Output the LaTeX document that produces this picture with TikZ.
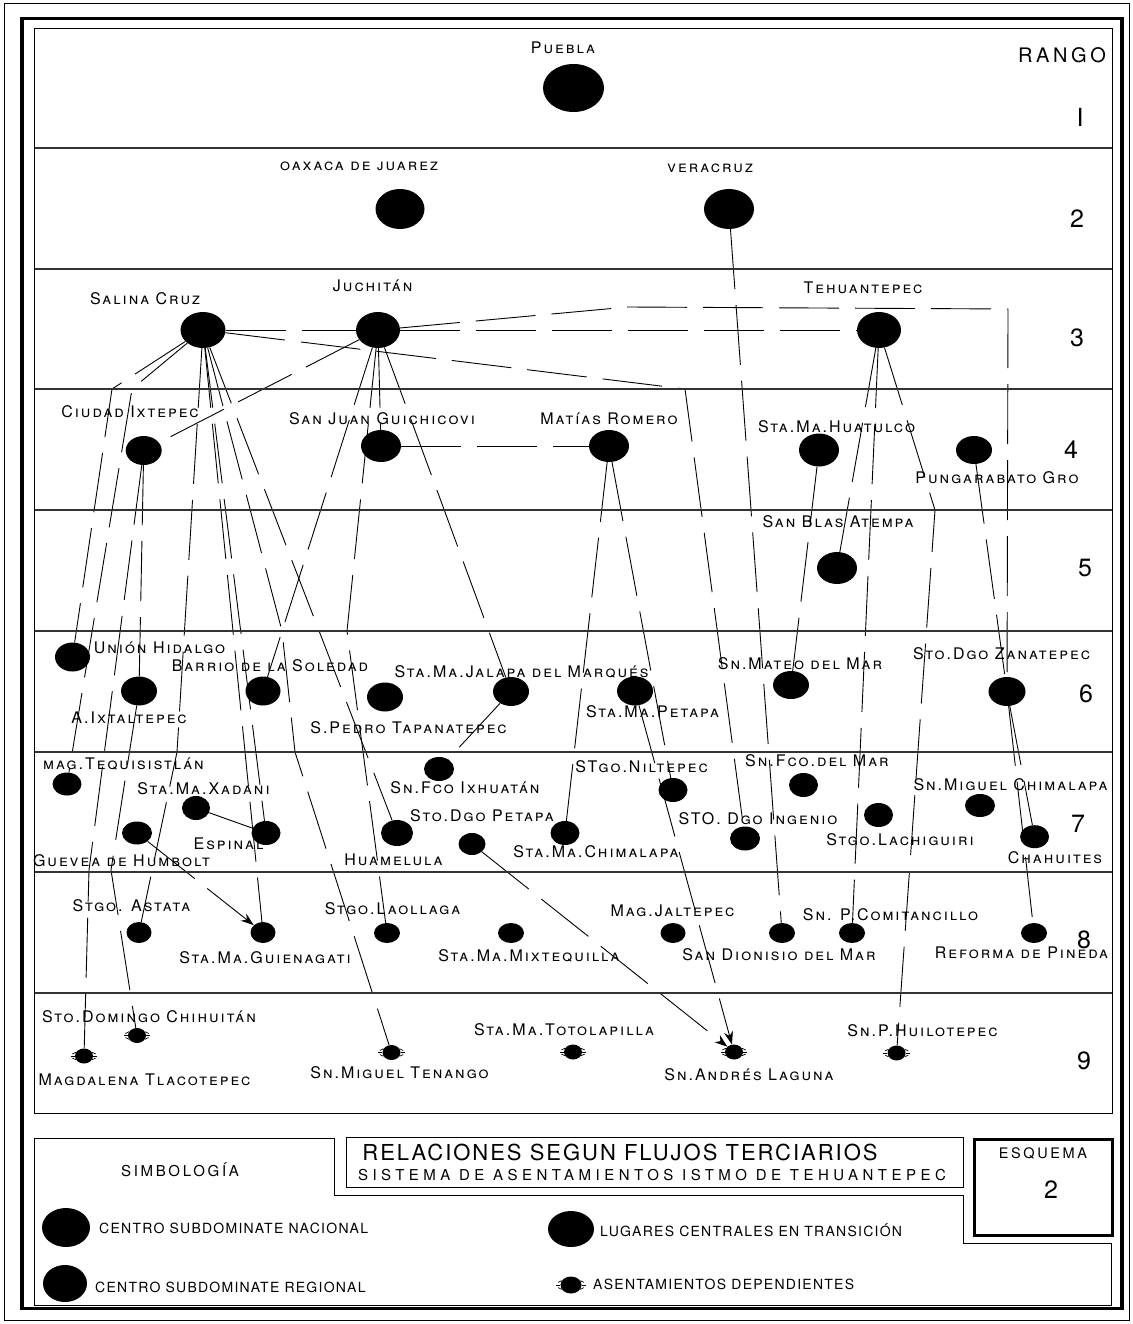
\documentclass[tikz,border=0pt]{standalone}
\usepackage{fontspec}
\setmainfont{TeX Gyre Heros}
\newfontfamily\cadfont[LetterSpace=12.5]{TeX Gyre Heros}
\newfontfamily\cadleg[LetterSpace=9]{TeX Gyre Heros}
\newfontfamily\cadtit[LetterSpace=9]{TeX Gyre Heros}
\newfontfamily\cadwide[LetterSpace=18]{TeX Gyre Heros}
\newfontfamily\cadsub[LetterSpace=30]{TeX Gyre Heros}
\usetikzlibrary{arrows.meta,shapes.geometric,backgrounds}

\tikzset{
  pob/.style 2 args={ellipse, fill=black, draw=none, inner sep=0pt, minimum width=#1, minimum height=#2},
  lbl/.style={font=\cadfont\fontsize{16}{16}\selectfont\scshape, inner sep=0pt, text height=11.5pt, text depth=0pt},
  flujo/.style={line width=0.9pt, dash pattern=on 60pt off 16pt},
  flecha/.style={flujo, -{Stealth[length=13pt,width=9pt]}},
  franja/.style={line width=1.1pt, draw=black!80},
  legtxt/.style={font=\cadleg\fontsize{14}{14}\selectfont, anchor=west, inner sep=0pt},
  rango/.style={font=\cadfont\fontsize{25}{25}\selectfont, inner sep=0pt}
}

\begin{document}
\begin{tikzpicture}[x=1pt, y=-1pt]
\useasboundingbox (0,0) rectangle (1132,1324);
% marcos
\draw[line width=0.8pt] (4,3) rectangle (1129,1320);
\draw[line width=3.2pt] (22,18.5) rectangle (1122,1308.5);
\draw[line width=1pt] (34.5,28.5) rectangle (1112,1113);
\foreach \y in {148,269,389,510,631,752,872,993}
  \draw[franja] (34.5,\y) -- (1112,\y);
% rangos
\node[font=\cadwide\fontsize{20}{20}\selectfont, inner sep=0pt] (rango) at (1062,55.5) {RANGO};
\foreach \t/\x/\y in {I/1080/117.5, 2/1077/219, 3/1077/337.5, 4/1071/450, 5/1085/568,
                      6/1086/694, 7/1078/824, 8/1084/940, 9/1084/1061}
  \node[rango] (r\t) at (\x,\y) {\t};

% asentamientos
\foreach \n/\x/\y/\w/\h in {
  puebla/573.5/88/61/48,
  oaxaca/400/209/49/40, veracruz/729/209/50/40,
  salina/203/330/45/36, juchitan/378/330/44/36, tehuantepec/879/330/44/36,
  ixtepec/143.7/450.5/36/29, guichicovi/381/446/40/32, romero/609/446/40/32,
  huatulco/819/450/40/33, pungarabato/974/450/36/28,
  blas/837/568/40/32,
  union/72.5/657/35/29, ixtaltepec/139/691/36/29, soledad/263/691/35/29,
  tapanatepec/385/697/36/29, jalapa/511/691.5/36/29, petapa/635/691/36/29,
  mateo/791/685/36/28, zanatepec/1007/691.5/37/29,
  tequisistlan/67/784/29/23, xadani/196/808/28/24, guevea/137/833/30/23,
  espinal/266/833/29/24, ixhuatan/439/769/30/24, huamelula/397/833/32/26,
  stodgopetapa/472/844/27/22, chimalapa/565/833/29/24, niltepec/673/790/29/24,
  ingenio/745/838.5/30/24, sfcomar/803.5/785/29/24, lachiguiri/878.5/815/29/24,
  smchimalapa/980/805.5/30/23, chahuites/1034.6/836.7/29/23,
  astata/139/932.5/25/21, guienagati/263/932.5/25/21, laollaga/387/933/26/20,
  mixtequilla/511/933/26/20, jaltepec/673/933/25/20, dionisio/782/933/26/20,
  comitancillo/852/933/26/20, reforma/1034/933/26/20,
  chihuitan/137/1035.5/18/15, tlacotepec/84/1056/18/15, tenango/391.5/1052.5/18/15,
  totolapilla/573/1052/18/15, laguna/734/1052/18/15, huilotepec/896.6/1053/18/15}
  \node[pob={\w}{\h}] (\n) at (\x,\y) {};

% asentamientos dependientes: bordes dentados
\foreach \n in {chihuitan,tlacotepec,tenango,totolapilla,laguna,huilotepec}
  \foreach \a in {-25,0,25,155,180,205}
    \draw[line width=0.7pt] (\n.\a) -- ++(\a:4);

% nombres
\foreach \n/\x/\y/\t in {
  puebla/563/48/Puebla, oaxaca/359/164.5/oaxaca de juarez, veracruz/710/166.5/veracruz,
  salina/145/299/Salina Cruz, juchitan/372.7/285.5/Juchitán, tehuantepec/863/287.5/Tehuantepec,
  ixtepec/130/411.5/Ciudad Ixtepec, guichicovi/382/418.5/San Juan Guichicovi,
  romero/609/418.5/Matías Romero, huatulco/836.5/426.5/Sta.Ma.Huatulco,
  pungarabato/997/477.5/Pungarabato Gro, blas/838/521.5/San Blas Atempa,
  union/159.5/647.5/Unión Hidalgo, ixtaltepec/129/717.5/A.Ixtaltepec,
  soledad/270/666/Barrio de la Soledad, jalapa/521.5/671.5/Sta.Ma.Jalapa del Marqués,
  tapanatepec/408.5/727.5/S.Pedro Tapanatepec, petapa/652.5/712/Sta.Ma.Petapa,
  mateo/800/663.5/Sn.Mateo del Mar, zanatepec/1001.5/653.5/Sto.Dgo Zanatepec,
  tequisistlan/123.5/763.5/mag.Tequisistlán, xadani/203.5/788.5/Sta.Ma.Xadani,
  guevea/121.5/861/Guevea de Humbolt, espinal/228.5/844/Espinal,
  ixhuatan/465/788/Sn.Fco Ixhuatán, huamelula/393.5/860/Huamelula,
  stodgopetapa/482/815.5/Sto.Dgo Petapa, chimalapa/596/851.5/Sta.Ma.Chimalapa,
  niltepec/641.5/766.5/STgo.Niltepec, ingenio/758/818.5/STO. Dgo Ingenio,
  sfcomar/817/760.5/Sn.Fco.del Mar, lachiguiri/900/839.5/Stgo.Lachiguiri,
  smchimalapa/1010.5/784.5/Sn.Miguel Chimalapa, chahuites/1055/857.5/Chahuites,
  astata/131.5/906/Stgo. Astata, guienagati/265/957.5/Sta.Ma.Guienagati,
  laollaga/392.5/908.5/Stgo.Laollaga, mixtequilla/529/956/Sta.Ma.Mixtequilla,
  jaltepec/672.5/910.5/Mag.Jaltepec, dionisio/779/955/San Dionisio del Mar,
  comitancillo/890.5/915/Sn. P.Comitancillo, reforma/1021.5/952.5/Reforma de Pineda,
  chihuitan/149/1017/Sto.Domingo Chihuitán, tlacotepec/144.5/1080/Magdalena Tlacotepec,
  tenango/399.5/1073/Sn.Miguel Tenango, totolapilla/564/1030/Sta.Ma.Totolapilla,
  laguna/749/1075/Sn.Andrés Laguna, huilotepec/922.5/1030.5/Sn.P.Huilotepec}
  \node[lbl] (t\n) at (\x,\y) {\t};

% codos de los flujos
\coordinate (codo1) at (628,307);
\coordinate (codo2) at (1008,309);
\coordinate (codo3) at (685,389);
\coordinate (codo4) at (112,389);
\coordinate (codo5) at (132,389);
\coordinate (codo6) at (177,752);
\coordinate (codo7) at (282,631);
\coordinate (codo8) at (295,752);
\coordinate (codo9) at (89,870);
\coordinate (codo10) at (111,870);
\coordinate (codo11) at (347,631);
\coordinate (codo12) at (935,510);

% flujos terciarios
\begin{scope}[on background layer]
\fill[white] (0,0) rectangle (1132,1324);
\draw[flujo] (salina) -- (juchitan);
\draw[flujo] (juchitan) -- (tehuantepec);
\draw[flujo] (juchitan) -- (codo1) -- (codo2) -- (zanatepec);
\draw[flujo] (juchitan) -- (ixtepec);
\draw[flujo] (salina) -- (codo3) -- (ingenio);
\draw[flujo] (veracruz) -- (dionisio);
\draw[flujo] (salina) -- (codo4) -- (union);
\draw[flujo] (salina) -- (codo5) -- (tequisistlan);
\draw[flujo] (salina) -- (codo6) -- (astata);
\draw[flujo] (salina) -- (guienagati);
\draw[flujo] (salina) -- (espinal);
\draw[flujo] (salina) -- (codo7) -- (codo8) -- (tenango);
\draw[flujo] (salina) -- (huamelula);
\draw[flujo] (ixtepec) -- (ixtaltepec);
\draw[flujo] (ixtepec) -- (codo9) -- (tlacotepec);
\draw[flujo] (ixtaltepec) -- (codo10) -- (chihuitan);
\draw[flujo] (juchitan) -- (soledad);
\draw[flujo] (juchitan) -- (codo11) -- (laollaga);
\draw[flujo] (juchitan) -- (guichicovi);
\draw[flujo] (juchitan) -- (jalapa);
\draw[flujo] (guichicovi) -- (romero);
\draw[flujo] (romero) -- (chimalapa);
\draw[flujo] (romero) -- (niltepec);
\draw[flecha] (petapa) -- (laguna);
\draw[flecha] (stodgopetapa) -- (laguna);
\draw[flecha] (guevea) -- (guienagati);
\draw[flujo] (xadani) -- (espinal);
\draw[flujo] (jalapa) -- (ixhuatan);
\draw[flujo] (tehuantepec) -- (blas);
\draw[flujo] (tehuantepec) -- (comitancillo);
\draw[flujo] (tehuantepec) -- (codo12) -- (huilotepec);
\draw[flujo] (huatulco) -- (mateo);
\draw[flujo] (pungarabato) -- (zanatepec);
\draw[flujo] (zanatepec) -- (chahuites);
\draw[flujo] (zanatepec) -- (reforma);
\end{scope}

% simbologia y titulo
\draw[line width=1pt] (34.5,1138) -- (334,1138) -- (334,1195) -- (963,1195) -- (963,1243)
  -- (1111,1243) -- (1111,1305) -- (34.5,1305) -- cycle;
\draw[line width=1pt] (346,1137) rectangle (963,1187);
\draw[line width=3pt] (974,1139) rectangle (1112,1235);
\node[font=\cadwide\fontsize{15}{15}\selectfont, inner sep=0pt] (simbologia) at (180,1170) {SIMBOLOGÍA};
\node[font=\cadtit\fontsize{22}{22}\selectfont, inner sep=0pt] (titulo) at (620,1152) {RELACIONES SEGUN FLUJOS TERCIARIOS};
\node[font=\cadsub\fontsize{15}{15}\selectfont, inner sep=0pt] (subtitulo) at (652,1175) {SISTEMA DE ASENTAMIENTOS ISTMO DE TEHUANTEPEC};
\node[font=\cadwide\fontsize{14.5}{14.5}\selectfont, inner sep=0pt] (esquema) at (1043,1153) {ESQUEMA};
\node[rango] (numesq) at (1051,1190) {2};
\node[pob={48}{39}] (sim1) at (66,1227.5) {};
\node[pob={44}{37}] (sim2) at (65,1283.5) {};
\node[pob={46}{36}] (sim3) at (571,1229) {};
\node[pob={21}{17}] (sim4) at (571,1285) {};
\foreach \a in {-25,0,25,155,180,205}
  \draw[line width=0.7pt] (sim4.\a) -- ++(\a:4);
\node[legtxt] (tsim1) at (99,1228) {CENTRO SUBDOMINATE NACIONAL};
\node[legtxt] (tsim2) at (95,1287) {CENTRO SUBDOMINATE REGIONAL};
\node[legtxt] (tsim3) at (600,1230) {LUGARES CENTRALES EN TRANSICIÓN};
\node[legtxt] (tsim4) at (593,1284) {ASENTAMIENTOS DEPENDIENTES};
\end{tikzpicture}
\end{document}
